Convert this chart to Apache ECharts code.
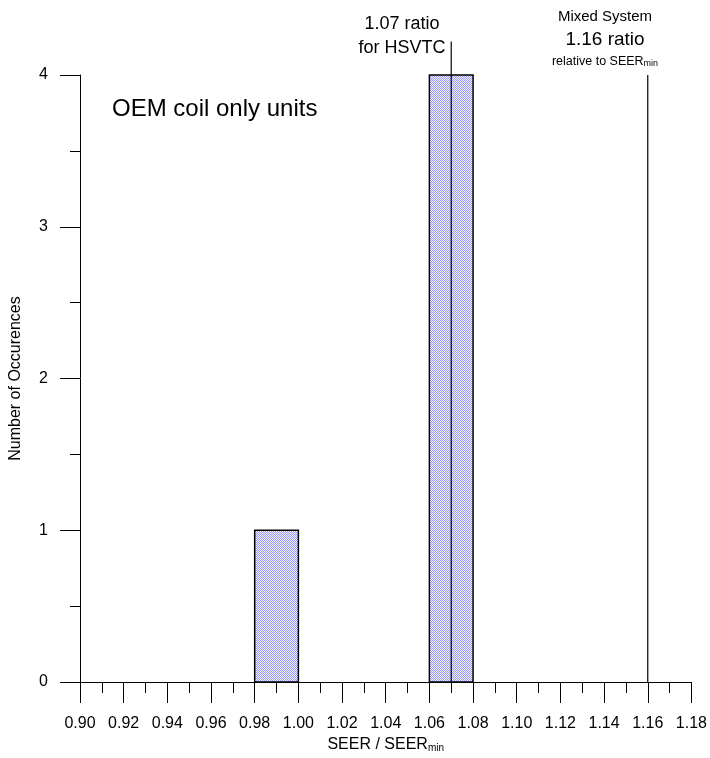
<!DOCTYPE html>
<html>
<head>
<meta charset="utf-8">
<script src="https://cdn.jsdelivr.net/npm/echarts@6/dist/echarts.min.js"></script>
<style>
  html, body { margin: 0; padding: 0; background: #fff; }
  #chart { width: 710px; height: 758px; }
</style>
</head>
<body>
<div id="chart"></div>
<script>
// histogram bins (SEER / SEERmin)
var binStart = [0.98, 1.06];
var binEnd = [1.00, 1.08];
var counts = [1, 4];

// vertical reference lines
var refX = [1.07, 1.16];
var refTop = [4.22, 4.0];

var xTicks = { min: 0.90, max: 1.18, step: 0.02 };
var yTicks = { min: 0, max: 4, step: 1 };

// small checker pattern for the bar fill
var pat = document.createElement('canvas');
pat.width = 2; pat.height = 2;
var pc = pat.getContext('2d');
pc.fillStyle = '#f2f2ff'; pc.fillRect(0, 0, 2, 2);
pc.fillStyle = '#9a9af8'; pc.fillRect(0, 0, 1, 1); pc.fillRect(1, 1, 1, 1);

var barData = binStart.map(function (s, i) { return [s, binEnd[i], counts[i]]; });
var lineData = refX.map(function (x, i) { return [x, refTop[i]]; });

var chart = echarts.init(document.getElementById('chart'));
var font = 'Liberation Sans, Arial, Helvetica, sans-serif';

var option = {
  animation: false,
  grid: { left: 80, right: 18, top: 75, bottom: 72, containLabel: false },
  xAxis: {
    type: 'value',
    min: xTicks.min, max: xTicks.max, interval: xTicks.step,
    name: '{a|SEER / SEER}{b|min}',
    nameLocation: 'middle',
    nameGap: 51,
    nameTextStyle: {
      rich: {
        a: { fontSize: 16, fontFamily: font, color: '#000', lineHeight: 20, verticalAlign: 'bottom' },
        b: { fontSize: 10, fontFamily: font, color: '#000', lineHeight: 20, verticalAlign: 'bottom', padding: [6, 0, 0, 0] }
      }
    },
    axisLine: { onZero: false, lineStyle: { color: '#000', width: 1 } },
    axisTick: { length: 21, lineStyle: { color: '#000' } },
    minorTick: { show: true, splitNumber: 2, length: 11, lineStyle: { color: '#000' } },
    axisLabel: {
      margin: 34, fontSize: 16, fontFamily: font, color: '#000',
      showMinLabel: true, showMaxLabel: true,
      formatter: function (v) { return v.toFixed(2); }
    },
    splitLine: { show: false }
  },
  yAxis: {
    type: 'value',
    min: yTicks.min, max: yTicks.max, interval: yTicks.step,
    name: 'Number of Occurences',
    nameLocation: 'middle',
    nameGap: 56,
    nameTextStyle: { fontSize: 16, fontFamily: font, color: '#000' },
    axisLine: { show: true, lineStyle: { color: '#000', width: 1 } },
    axisTick: { show: true, length: 20, lineStyle: { color: '#000' } },
    minorTick: { show: true, splitNumber: 2, length: 10, lineStyle: { color: '#000' } },
    axisLabel: { margin: 32, fontSize: 16, fontFamily: font, color: '#000' },
    splitLine: { show: false }
  },
  series: [
    {
      type: 'custom',
      data: barData,
      encode: { x: [0, 1], y: 2 },
      renderItem: function (params, api) {
        var p0 = api.coord([api.value(0), api.value(2)]);
        var p1 = api.coord([api.value(1), 0]);
        return {
          type: 'rect',
          shape: { x: p0[0], y: p0[1], width: p1[0] - p0[0], height: p1[1] - p0[1] },
          style: { fill: { image: pat, repeat: 'repeat' }, stroke: '#000', lineWidth: 1.5 }
        };
      },
      z: 2
    },
    {
      type: 'custom',
      data: lineData,
      clip: false,
      encode: { x: 0, y: 1 },
      renderItem: function (params, api) {
        var a = api.coord([api.value(0), 0]);
        var b = api.coord([api.value(0), api.value(1)]);
        return {
          type: 'line',
          shape: { x1: a[0], y1: a[1], x2: b[0], y2: b[1] },
          style: { stroke: '#000', lineWidth: 1.2 }
        };
      },
      z: 3
    }
  ],
  graphic: [
    { type: 'text', left: 112, top: 97,
      style: { text: 'OEM coil only units', fontSize: 24, fontFamily: font, fill: '#000' } },
    { type: 'text', x: 402, y: 24,
      style: { text: '1.07 ratio', fontSize: 18, fontFamily: font, fill: '#000', align: 'center', verticalAlign: 'middle' } },
    { type: 'text', x: 402, y: 48,
      style: { text: 'for HSVTC', fontSize: 18, fontFamily: font, fill: '#000', align: 'center', verticalAlign: 'middle' } },
    { type: 'text', x: 605, y: 17,
      style: { text: 'Mixed System', fontSize: 15, fontFamily: font, fill: '#000', align: 'center', verticalAlign: 'middle' } },
    { type: 'text', x: 605, y: 40,
      style: { text: '1.16 ratio', fontSize: 19, fontFamily: font, fill: '#000', align: 'center', verticalAlign: 'middle' } },
    { type: 'text', x: 605, y: 60,
      style: {
        text: '{a|relative to SEER}{b|min}', align: 'center', verticalAlign: 'middle',
        rich: {
          a: { fontSize: 12.5, fontFamily: font, fill: '#000', lineHeight: 16, verticalAlign: 'bottom' },
          b: { fontSize: 9, fontFamily: font, fill: '#000', lineHeight: 16, verticalAlign: 'bottom', padding: [5, 0, 0, 0] }
        }
      } }
  ]
};

chart.setOption(option);
</script>
</body>
</html>
